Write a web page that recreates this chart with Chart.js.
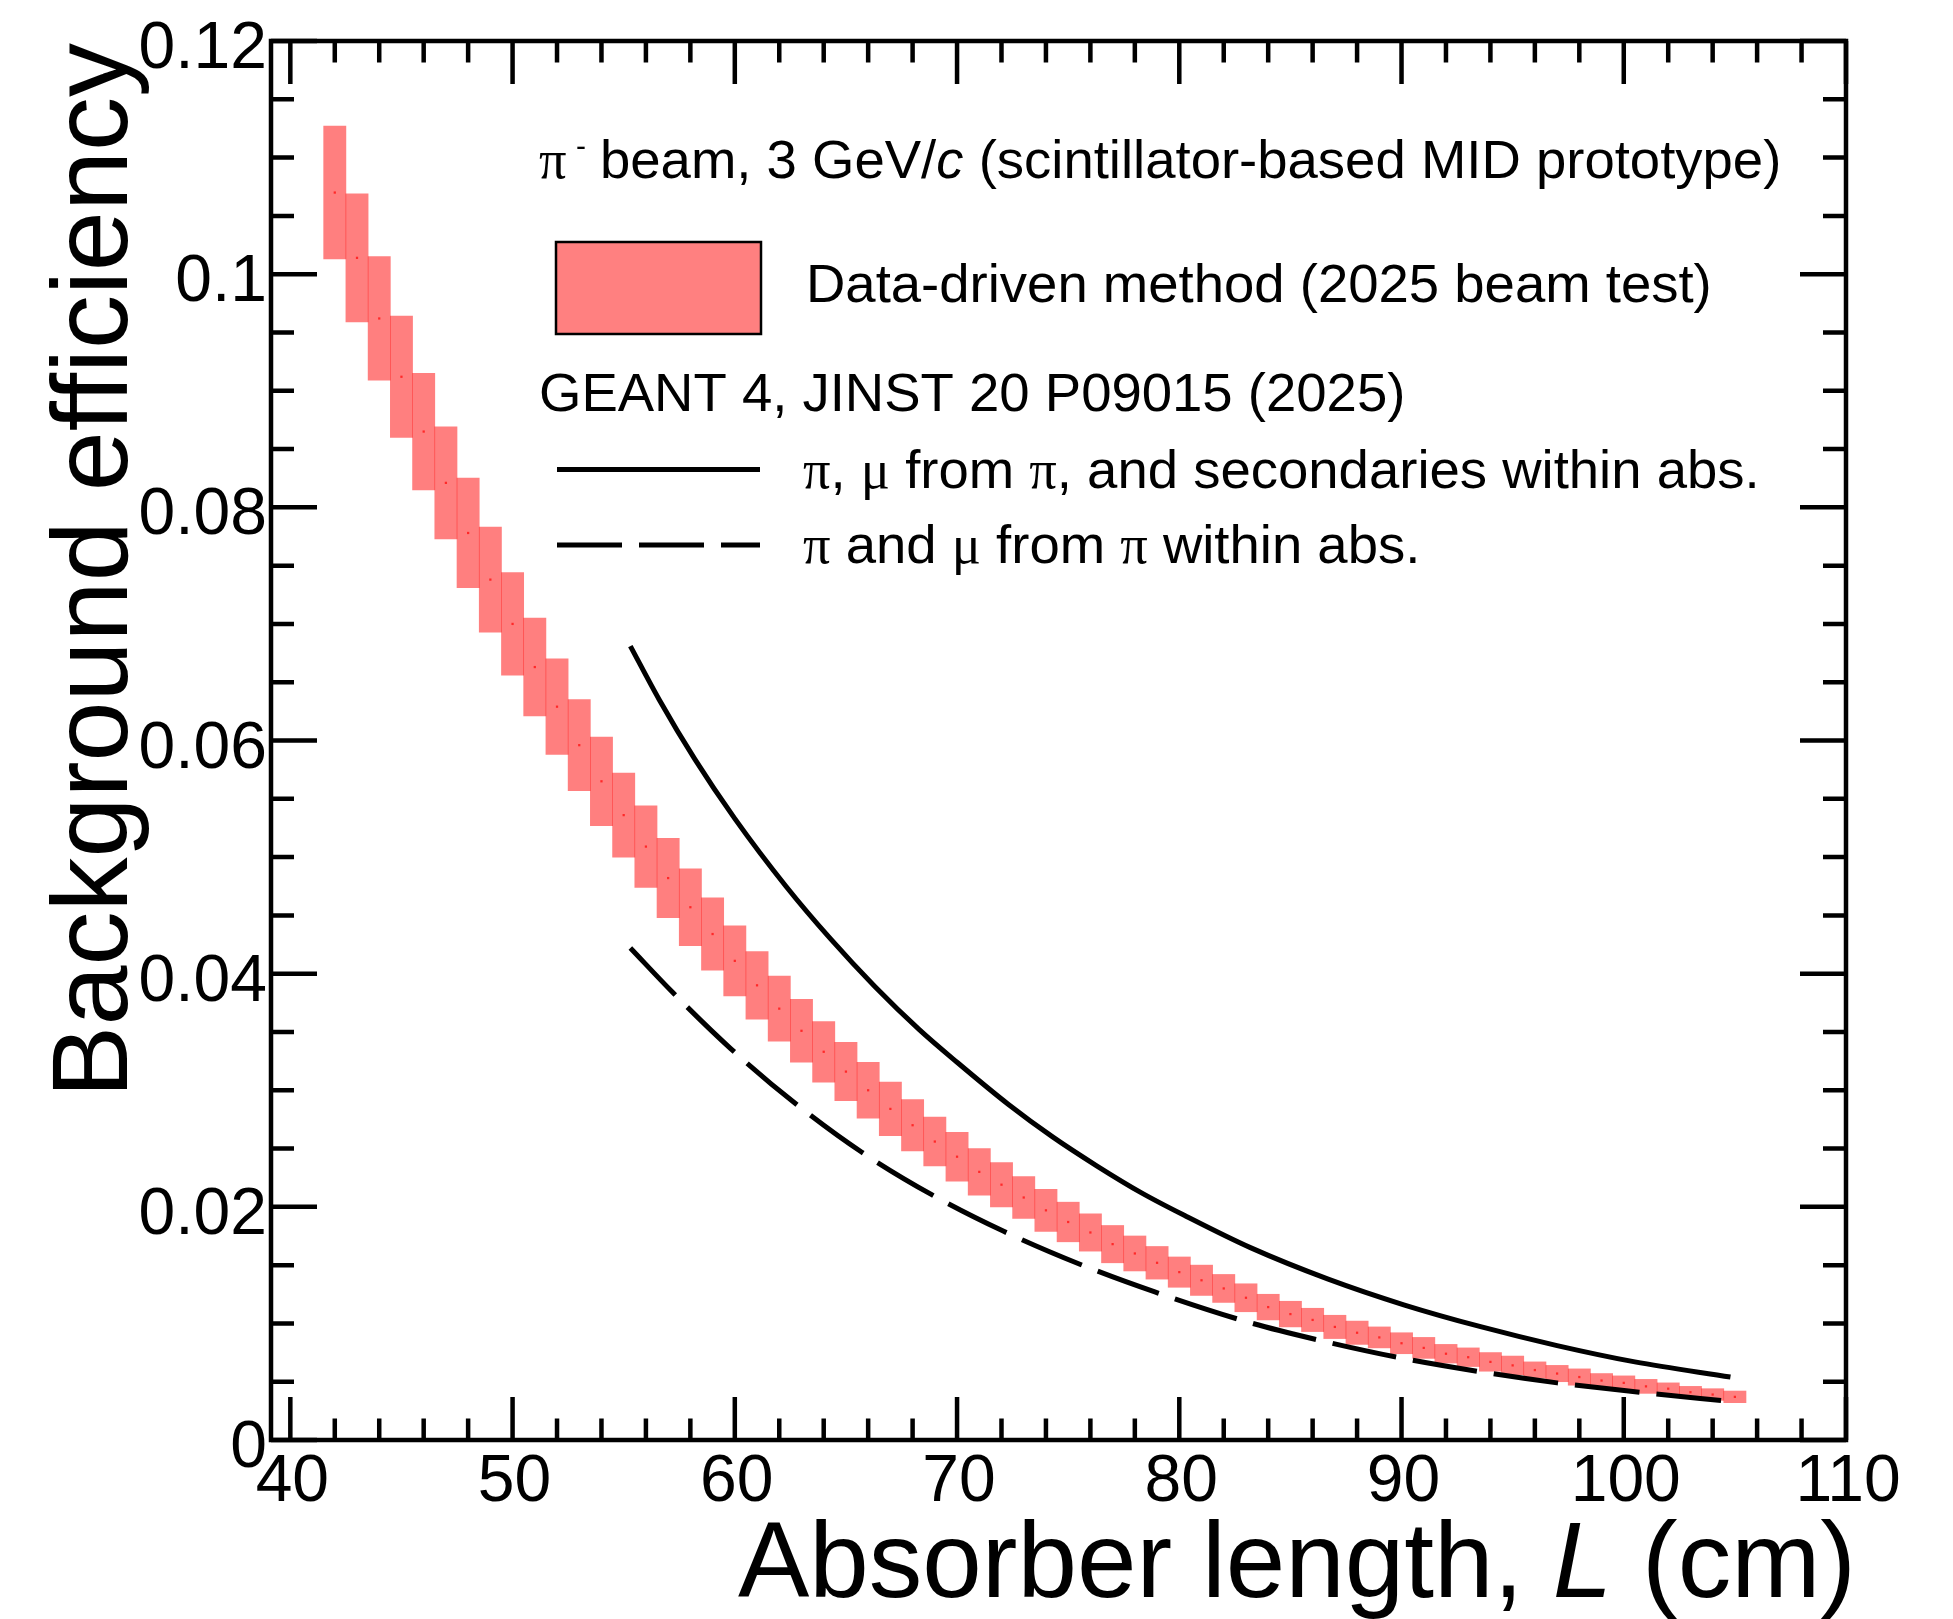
<!DOCTYPE html>
<html>
<head>
<meta charset="utf-8">
<title>Background efficiency vs absorber length</title>
<script src="https://cdn.jsdelivr.net/npm/chart.js@4.4.1/dist/chart.umd.min.js"></script>
<style>
  html, body { margin: 0; padding: 0; background: #fff; }
  #wrap { width: 1953px; height: 1619px; }
</style>
</head>
<body>
<div id="wrap"><canvas id="bkg-chart" width="1953" height="1619"></canvas></div>
<script>
// Data-driven band: bin centre (cm), efficiency, half-height of the box
const absorberLength = [
    42, 43, 44, 45, 46, 47, 48, 49, 50, 51, 52, 53, 54, 55, 56, 57,
    58, 59, 60, 61, 62, 63, 64, 65, 66, 67, 68, 69, 70, 71, 72, 73,
    74, 75, 76, 77, 78, 79, 80, 81, 82, 83, 84, 85, 86, 87, 88, 89,
    90, 91, 92, 93, 94, 95, 96, 97, 98, 99, 100, 101, 102, 103, 104, 105,
];
const dataEff = [
    0.1070, 0.1014, 0.0962, 0.0912, 0.0865, 0.0821, 0.0778, 0.0738,
    0.0700, 0.0663, 0.0629, 0.0596, 0.0565, 0.0536, 0.0509, 0.0482,
    0.0457, 0.0434, 0.0411, 0.0390, 0.0370, 0.0351, 0.0333, 0.0316,
    0.0300, 0.0284, 0.0270, 0.0256, 0.0243, 0.0230, 0.0219, 0.0208,
    0.0197, 0.0187, 0.0178, 0.0168, 0.0160, 0.0152, 0.0144, 0.0137,
    0.0130, 0.0122, 0.0114, 0.0108, 0.0103, 0.0097, 0.0092, 0.0088,
    0.0083, 0.0079, 0.0074, 0.0071, 0.0067, 0.0064, 0.0060, 0.0057,
    0.0054, 0.0051, 0.0049, 0.0046, 0.0044, 0.0041, 0.0039, 0.0037,
];
const dataErr = [
    0.0057, 0.0055, 0.0053, 0.0052, 0.0050, 0.0048, 0.0047, 0.0045,
    0.0044, 0.0042, 0.0041, 0.0039, 0.0038, 0.0036, 0.0035, 0.0034,
    0.0033, 0.0031, 0.0030, 0.0029, 0.0028, 0.0027, 0.0026, 0.0025,
    0.0024, 0.0023, 0.0022, 0.0021, 0.0021, 0.0020, 0.0019, 0.0018,
    0.0018, 0.0017, 0.0016, 0.0016, 0.0015, 0.0014, 0.0013, 0.0013,
    0.0012, 0.0012, 0.0011, 0.0011, 0.0010, 0.0010, 0.0010, 0.0009,
    0.0009, 0.0009, 0.0008, 0.0008, 0.0008, 0.0008, 0.0007, 0.0007,
    0.0007, 0.0006, 0.0006, 0.0006, 0.0005, 0.0005, 0.0005, 0.0005,
];

// GEANT4: pi, mu from pi and secondaries (solid)
const simAllL = [55.3, 56.6, 58.2, 60.0, 62.3, 64.3, 66.3, 68.3, 70.0, 72.3, 74.3,
    76.3, 78.3, 80.3, 83.2, 86.7, 90.1, 93.6, 97.0, 100.5, 104.8];
const simAllEff = [0.0681, 0.0635, 0.0584, 0.0533, 0.0475, 0.0430, 0.0389, 0.0352, 0.0324, 0.0288, 0.0260,
    0.0235, 0.0212, 0.0192, 0.0165, 0.0138, 0.0116, 0.0097, 0.0081, 0.0067, 0.0054];

// GEANT4: pi and mu from pi only (dashed)
const simPiMuL = [55.3, 57.2, 59.8, 62.7, 65.7, 68.9, 72.1, 75.5, 78.9, 83.3, 86.2,
    89.8, 93.4, 97.0, 100.7, 104.8];
const simPiMuEff = [0.0422, 0.0384, 0.0336, 0.0289, 0.0247, 0.0210, 0.0179, 0.0151, 0.0127, 0.0100, 0.0086,
    0.0071, 0.0059, 0.0049, 0.0041, 0.0033];

// Axis ticks
const xMajorTicks = [40, 50, 60, 70, 80, 90, 100, 110];
const xTickLabels = ['40', '50', '60', '70', '80', '90', '100', '110'];
const xMinorTicks = [42, 44, 46, 48, 52, 54, 56, 58, 62, 64, 66, 68, 72, 74, 76, 78,
    82, 84, 86, 88, 92, 94, 96, 98, 102, 104, 106, 108];
const yMajorTicks = [0, 0.02, 0.04, 0.06, 0.08, 0.1, 0.12];
const yTickLabels = ['0', '0.02', '0.04', '0.06', '0.08', '0.1', '0.12'];
const yMinorTicks = [0.005, 0.01, 0.015, 0.025, 0.03, 0.035, 0.045, 0.05, 0.055,
    0.065, 0.07, 0.075, 0.085, 0.09, 0.095, 0.105, 0.11, 0.115];

const SANS = '"Liberation Sans", Arial, Helvetica, sans-serif';
const SERIF = '"Liberation Serif", "DejaVu Serif", serif';

function drawRich(ctx, x, y, parts) {
    parts.forEach(p => {
        ctx.font = p.font;
        ctx.fillText(p.text, x, y);
        x += ctx.measureText(p.text).width;
    });
    return x;
}

function richWidth(ctx, parts) {
    let w = 0;
    parts.forEach(p => {
        ctx.font = p.font;
        w += ctx.measureText(p.text).width;
    });
    return w;
}

// ROOT-style frame: ticks inside on all four sides, labels, titles, legend
const rootFrame = {
    id: 'rootFrame',
    afterDatasetsDraw(chart) {
        const { ctx, chartArea: a, scales: { x, y } } = chart;
        ctx.save();
        ctx.strokeStyle = '#000';
        ctx.fillStyle = '#000';
        ctx.lineWidth = 4.5;
        ctx.lineCap = 'butt';
        ctx.strokeRect(a.left, a.top, a.right - a.left, a.bottom - a.top);

        const xTick = (v, len) => {
            const px = x.getPixelForValue(v);
            ctx.beginPath();
            ctx.moveTo(px, a.bottom); ctx.lineTo(px, a.bottom - len);
            ctx.moveTo(px, a.top); ctx.lineTo(px, a.top + len);
            ctx.stroke();
        };
        const yTick = (v, len) => {
            const py = y.getPixelForValue(v);
            ctx.beginPath();
            ctx.moveTo(a.left, py); ctx.lineTo(a.left + len, py);
            ctx.moveTo(a.right, py); ctx.lineTo(a.right - len, py);
            ctx.stroke();
        };
        xMajorTicks.forEach(v => xTick(v, 43));
        xMinorTicks.forEach(v => xTick(v, 21.5));
        yMajorTicks.forEach(v => yTick(v, 46));
        yMinorTicks.forEach(v => yTick(v, 23));

        // tick labels
        ctx.font = `66px ${SANS}`;
        ctx.textBaseline = 'alphabetic';
        ctx.textAlign = 'center';
        xMajorTicks.forEach((v, i) => {
            ctx.fillText(xTickLabels[i], x.getPixelForValue(v) + 2, a.bottom + 61);
        });
        ctx.textAlign = 'right';
        yMajorTicks.forEach((v, i) => {
            ctx.fillText(yTickLabels[i], a.left - 4, y.getPixelForValue(v) + 27);
        });

        // y title, right-aligned to the top of the axis
        ctx.save();
        ctx.translate(127, 43);
        ctx.rotate(-Math.PI / 2);
        ctx.font = `108px ${SANS}`;
        ctx.textAlign = 'right';
        ctx.fillText('Background efficiency', 0, 0);
        ctx.restore();

        // x title, right-aligned to the end of the axis
        ctx.textAlign = 'left';
        const xTitle = [
            { text: 'Absorber length, ', font: `107px ${SANS}` },
            { text: 'L', font: `italic 107px ${SANS}` },
            { text: ' (cm)', font: `107px ${SANS}` },
        ];
        drawRich(ctx, 1856 - richWidth(ctx, xTitle), 1597, xTitle);

        // legend
        const f = `54.5px ${SANS}`;
        const fi = `italic 54.5px ${SANS}`;
        const fg = `54.5px ${SERIF}`;
        drawRich(ctx, 539, 178, [{ text: 'π', font: fg }]);
        ctx.font = `30px ${SANS}`;
        ctx.fillText('-', 576, 156);
        drawRich(ctx, 600, 178, [
            { text: 'beam, 3 GeV/', font: f },
            { text: 'c', font: fi },
            { text: ' (scintillator-based MID prototype)', font: f },
        ]);

        ctx.fillStyle = '#ff8080';
        ctx.fillRect(556, 242, 205, 92);
        ctx.lineWidth = 2.5;
        ctx.strokeStyle = '#000';
        ctx.strokeRect(556, 242, 205, 92);
        ctx.fillStyle = '#000';
        drawRich(ctx, 806, 302, [{ text: 'Data-driven method (2025 beam test)', font: f }]);

        drawRich(ctx, 539, 411, [{ text: 'GEANT 4, JINST 20 P09015 (2025)', font: f }]);

        ctx.lineWidth = 5;
        ctx.beginPath();
        ctx.moveTo(557, 469.5); ctx.lineTo(760, 469.5);
        ctx.stroke();
        drawRich(ctx, 803, 488, [
            { text: 'π', font: fg }, { text: ', ', font: f }, { text: 'μ', font: fg },
            { text: ' from ', font: f }, { text: 'π', font: fg },
            { text: ', and secondaries within abs.', font: f },
        ]);

        ctx.setLineDash([65, 17]);
        ctx.beginPath();
        ctx.moveTo(557, 545); ctx.lineTo(760, 545);
        ctx.stroke();
        ctx.setLineDash([]);
        drawRich(ctx, 803, 563, [
            { text: 'π', font: fg }, { text: ' and ', font: f }, { text: 'μ', font: fg },
            { text: ' from ', font: f }, { text: 'π', font: fg },
            { text: ' within abs.', font: f },
        ]);
        ctx.restore();
    },
};

const bandData = absorberLength.map((L, i) => ({ x: L, y: [dataEff[i] - dataErr[i], dataEff[i] + dataErr[i]] }));
const centreData = absorberLength.map((L, i) => ({ x: L, y: dataEff[i] }));
const simAllData = simAllL.map((L, i) => ({ x: L, y: simAllEff[i] }));
const simPiMuData = simPiMuL.map((L, i) => ({ x: L, y: simPiMuEff[i] }));

new Chart(document.getElementById('bkg-chart'), {
    type: 'bar',
    data: {
        datasets: [
            {
                type: 'line',
                label: 'pi, mu from pi, and secondaries within abs.',
                data: simAllData,
                borderColor: '#000',
                borderWidth: 5,
                pointRadius: 0,
                cubicInterpolationMode: 'monotone',
                fill: false,
                order: 1,
            },
            {
                type: 'line',
                label: 'pi and mu from pi within abs.',
                data: simPiMuData,
                borderColor: '#000',
                borderWidth: 5,
                borderDash: [65, 17],
                pointRadius: 0,
                cubicInterpolationMode: 'monotone',
                fill: false,
                order: 1,
            },
            {
                type: 'line',
                label: 'centre',
                data: centreData,
                showLine: false,
                pointStyle: 'rect',
                pointRadius: 1.6,
                pointBorderWidth: 0,
                pointBackgroundColor: 'rgba(255, 20, 20, 0.8)',
                order: 2,
            },
            {
                label: 'Data-driven method (2025 beam test)',
                data: bandData,
                backgroundColor: 'rgba(255, 0, 0, 0.5)',
                borderWidth: 0,
                borderSkipped: false,
                barPercentage: 1,
                categoryPercentage: 1,
                order: 3,
            },
        ],
    },
    options: {
        responsive: false,
        devicePixelRatio: 1,
        animation: false,
        layout: { padding: { left: 271, right: 107, top: 41, bottom: 179 } },
        plugins: {
            legend: { display: false },
            tooltip: { enabled: false },
        },
        scales: {
            x: { type: 'linear', min: 39.13, max: 110, offset: false, display: false },
            y: { type: 'linear', min: 0, max: 0.12, display: false },
        },
    },
    plugins: [rootFrame],
});
</script>
</body>
</html>
